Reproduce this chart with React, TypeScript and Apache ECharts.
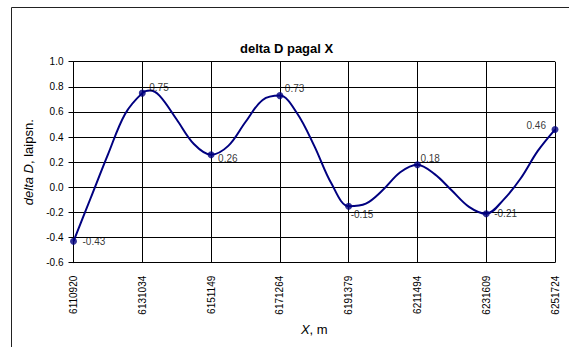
import React, { useEffect, useRef } from "react";
import * as echarts from "echarts";

// Tick labels on the X axis (metres)
const tickLabels = ["6110920", "6131034", "6151149", "6171264", "6191379", "6211494", "6231609", "6251724"];
// Measured points (X, m) and delta D values
const xMain = [6110920, 6131034, 6151149, 6171264, 6191379, 6211494, 6231609, 6251724];
const yMain = [-0.43, 0.75, 0.26, 0.73, -0.15, 0.18, -0.21, 0.46];
// Dense curve through the points
const xCurve = [
  6110920, 6115949, 6120977, 6126006, 6131034, 6133248, 6136063, 6141092, 6146120,
  6151149, 6156178, 6161206, 6166235, 6171264, 6176293, 6181321, 6186350,
  6191379, 6196407, 6201436, 6206465, 6211494, 6216522, 6221551, 6226580,
  6231609, 6236637, 6241666, 6246695, 6251724,
];
const yCurve = [
  -0.43, -0.085, 0.26, 0.584, 0.75, 0.77, 0.73, 0.54, 0.345,
  0.26, 0.33, 0.52, 0.695, 0.73, 0.59, 0.33, 0.03,
  -0.15, -0.13, -0.02, 0.12, 0.18, 0.105, -0.025, -0.155,
  -0.21, -0.10, 0.07, 0.29, 0.46,
];
// Label placement (style only): [align, dx, dy]
const labelPlacement: [string, number, number][] = [
  ["left", 9, 0],
  ["left", 7, -6],
  ["left", 7, 4],
  ["left", 5, -7],
  ["left", 2, 8],
  ["left", 3, -6],
  ["left", 8, 0],
  ["right", -9, -4],
];

const FONT = "'Liberation Sans', Arial, sans-serif";

export default function App() {
  const ref = useRef<HTMLDivElement>(null);
  useEffect(() => {
    if (!ref.current) return;
    const chart = echarts.init(ref.current, undefined, { renderer: "svg" });
    const x0 = xMain[0];
    const step = (xMain[xMain.length - 1] - xMain[0]) / (tickLabels.length - 1);
    const toIdx = (m: number) => (m - x0) / step;
    const curveData = xCurve.map((m, i) => [toIdx(m), yCurve[i]]);
    const mainData = xMain.map((m, i) => {
      const [align, dx, dy] = labelPlacement[i];
      return {
        value: [toIdx(m), yMain[i]],
        label: {
          show: true,
          position: "inside",
          align,
          verticalAlign: "middle",
          offset: [dx, dy],
          formatter: () => yMain[i].toFixed(2),
          color: "#000",
          fontSize: 10,
          fontFamily: FONT,
        },
      };
    });
    chart.setOption({
      animation: false,
      backgroundColor: "#fff",
      title: {
        text: "delta D pagal X",
        left: 240,
        top: 42,
        padding: 0,
        textStyle: { fontFamily: FONT, fontSize: 13, fontWeight: "bold", color: "#000" },
      },
      graphic: [
        {
          type: "rect",
          shape: { x: 11.5, y: 7.5, width: 700, height: 500 },
          style: { fill: "none", stroke: "#222", lineWidth: 1 },
          silent: true,
        },
      ],
      grid: { left: 73.5, right: 14, top: 61.7, bottom: 84.3, containLabel: false },
      xAxis: {
        type: "value",
        min: 0,
        max: tickLabels.length - 1,
        interval: 1,
        name: "{i|X}, m",
        nameLocation: "middle",
        nameGap: 60,
        nameTextStyle: {
          fontFamily: FONT,
          fontSize: 13,
          color: "#000",
          rich: { i: { fontStyle: "italic", fontFamily: FONT, fontSize: 13, color: "#000" } },
        },
        axisLine: { lineStyle: { color: "#000", width: 1 } },
        axisTick: { show: true, length: 5, lineStyle: { color: "#000" } },
        axisLabel: {
          rotate: 90,
          margin: 13,
          fontFamily: FONT,
          fontSize: 10,
          color: "#000",
          formatter: (v: number) => tickLabels[Math.round(v)] ?? "",
        },
        splitLine: { show: true, lineStyle: { color: "#000", width: 1 } },
      },
      yAxis: {
        type: "value",
        min: -0.6,
        max: 1.0,
        interval: 0.2,
        name: "{i|delta D}, laipsn.",
        nameLocation: "middle",
        nameGap: 34,
        nameTextStyle: {
          fontFamily: FONT,
          fontSize: 13,
          color: "#000",
          rich: { i: { fontStyle: "italic", fontFamily: FONT, fontSize: 13, color: "#000" } },
        },
        axisLine: { show: true, lineStyle: { color: "#000", width: 1 } },
        axisTick: { show: true, length: 5, lineStyle: { color: "#000" } },
        axisLabel: {
          margin: 10,
          fontFamily: FONT,
          fontSize: 10,
          color: "#000",
          formatter: (v: number) => v.toFixed(1),
        },
        splitLine: { show: true, lineStyle: { color: "#000", width: 1 } },
      },
      series: [
        {
          type: "line",
          data: curveData,
          smooth: 0.35,
          showSymbol: false,
          symbol: "none",
          lineStyle: { color: "#000080", width: 2 },
          z: 2,
        },
        {
          type: "scatter",
          data: mainData,
          symbol: "circle",
          symbolSize: 7,
          itemStyle: { color: "#000080" },
          z: 3,
        },
      ],
    });
    return () => chart.dispose();
  }, []);
  return (
    <div
      ref={ref}
      style={{ position: "absolute", left: 0, top: 0, width: 569, height: 347 }}
    />
  );
}
